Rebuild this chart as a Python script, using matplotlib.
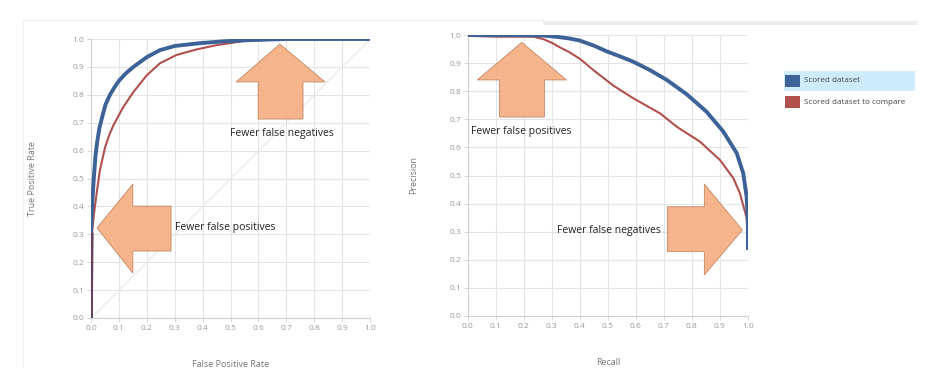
import matplotlib
matplotlib.use("Agg")
import matplotlib.pyplot as plt
from matplotlib.patches import Polygon, Rectangle
from matplotlib.lines import Line2D

plt.rcParams['font.family'] = ['Open Sans', 'DejaVu Sans']

# ---- data ----
ticks = [0.0, 0.1, 0.2, 0.3, 0.4, 0.5, 0.6, 0.7, 0.8, 0.9, 1.0]
tick_labels = ["0.0", "0.1", "0.2", "0.3", "0.4", "0.5", "0.6", "0.7", "0.8", "0.9", "1.0"]

roc_scored_fpr = [0.0, 0.0, 0.002, 0.005, 0.01, 0.016, 0.022, 0.03, 0.04, 0.052, 0.068, 0.085, 0.1, 0.125, 0.152, 0.2, 0.247, 0.3, 0.39, 0.48, 0.57, 0.7, 1.0]
roc_scored_tpr = [0.0, 0.3, 0.36, 0.42, 0.5, 0.58, 0.63, 0.68, 0.72, 0.765, 0.8, 0.828, 0.85, 0.877, 0.9, 0.935, 0.96, 0.975, 0.985, 0.992, 0.996, 1.0, 1.0]

roc_compare_fpr = [0.0, 0.003, 0.008, 0.014, 0.022, 0.032, 0.05, 0.065, 0.08, 0.115, 0.152, 0.2, 0.247, 0.307, 0.38, 0.45, 0.57, 0.65, 1.0]
roc_compare_tpr = [0.0, 0.3, 0.35, 0.4, 0.46, 0.53, 0.61, 0.655, 0.69, 0.755, 0.81, 0.87, 0.913, 0.943, 0.963, 0.978, 0.996, 1.0, 1.0]

pr_scored_recall = [0.0, 0.15, 0.27, 0.32, 0.36, 0.4, 0.45, 0.495, 0.54, 0.59, 0.65, 0.71, 0.78, 0.852, 0.912, 0.96, 0.983, 0.995, 1.0, 1.0]
pr_scored_prec = [1.0, 1.0, 0.998, 0.993, 0.988, 0.98, 0.962, 0.942, 0.925, 0.905, 0.875, 0.84, 0.79, 0.727, 0.656, 0.579, 0.508, 0.425, 0.33, 0.242]

pr_compare_recall = [0.0, 0.1, 0.233, 0.27, 0.3, 0.33, 0.36, 0.4, 0.448, 0.519, 0.59, 0.686, 0.745, 0.829, 0.9, 0.948, 0.971, 0.995, 1.0]
pr_compare_prec = [0.997, 0.994, 0.994, 0.985, 0.972, 0.955, 0.94, 0.915, 0.875, 0.82, 0.775, 0.721, 0.674, 0.62, 0.555, 0.49, 0.437, 0.35, 0.242]

series_names = ["Scored dataset", "Scored dataset to compare"]
blue = "#3D6298"
red = "#B0514E"
arrow_face = "#F4AA7C"
arrow_edge = "#B9805A"
tick_color = "#9A9A9A"
grid_color = "#E4E4E4"

fig = plt.figure(figsize=(9.35, 3.91), dpi=100)

# faint screenshot frame pieces
fig.add_artist(Line2D([23/935, 543/935], [1-20/391, 1-20/391], color="#EFEFEF", lw=0.8))
fig.add_artist(Line2D([23/935, 23/935], [1-20/391, 1-367/391], color="#EFEFEF", lw=0.8))
fig.add_artist(Rectangle((543/935, 1-25/391), 375/935, 4/391, facecolor="#ECECEC", edgecolor="none"))

ax1 = fig.add_axes([91/935, 1-318/391, 279/935, 279/391])
ax2 = fig.add_axes([468/935, 1-316/391, 280/935, 281/391])


def style(ax):
    ax.set_xlim(0, 1)
    ax.set_ylim(0, 1)
    ax.set_xticks(ticks)
    ax.set_yticks(ticks)
    ax.set_xticklabels(tick_labels)
    ax.set_yticklabels(tick_labels)
    ax.grid(True, color=grid_color, lw=0.8)
    ax.set_axisbelow(True)
    for s in ["top", "right"]:
        ax.spines[s].set_visible(False)
    for s in ["left", "bottom"]:
        ax.spines[s].set_color("#CFCFCF")
        ax.spines[s].set_linewidth(0.8)
    ax.tick_params(labelsize=6, length=3, width=0.6, pad=2)
    ax.tick_params(axis='x', colors="#CFCFCF", labelcolor=tick_color)
    ax.tick_params(axis='y', colors="#CFCFCF", labelcolor=tick_color)


def arrow(ax, pts):
    ax.add_patch(Polygon(pts, closed=True, facecolor=arrow_face, edgecolor=arrow_edge,
                         lw=0.6, alpha=0.88, zorder=5))


style(ax1)
style(ax2)

# ROC
ax1.plot([0, 1], [0, 1], color="#E8E8E8", lw=0.8, zorder=2)
ax1.plot(roc_compare_fpr, roc_compare_tpr, color=red, lw=1.5, zorder=3)
ax1.plot(roc_scored_fpr, roc_scored_tpr, color=blue, lw=2.8, zorder=4)
ax1.plot(roc_compare_fpr[:2], roc_compare_tpr[:2], color="#6B3F5A", lw=2.5, zorder=4)

arrow(ax1, [(0.677, 0.982), (0.839, 0.846), (0.76, 0.846), (0.76, 0.713),
            (0.599, 0.713), (0.599, 0.846), (0.52, 0.846)])
arrow(ax1, [(0.0215, 0.323), (0.15, 0.48), (0.15, 0.401), (0.287, 0.401),
            (0.287, 0.24), (0.15, 0.24), (0.15, 0.161)])
ax1.text(0.685, 0.663, "Fewer false negatives", ha="center", va="center", fontsize=7.5, color="#222222", zorder=6)
ax1.text(0.30, 0.323, "Fewer false positives", ha="left", va="center", fontsize=7.5, color="#222222", zorder=6)

ax1.set_xlabel("False Positive Rate", fontsize=6.5, color="#777777", labelpad=20)
ax1.set_ylabel("True Positive Rate", fontsize=6.5, color="#777777", labelpad=25)

# PR
ax2.plot(pr_compare_recall, pr_compare_prec, color=red, lw=1.5, zorder=3)
ax2.plot(pr_scored_recall, pr_scored_prec, color=blue, lw=2.8, zorder=4)

arrow(ax2, [(0.192, 0.974), (0.352, 0.84), (0.273, 0.84), (0.273, 0.708),
            (0.112, 0.708), (0.112, 0.84), (0.033, 0.84)])
arrow(ax2, [(0.98, 0.306), (0.844, 0.47), (0.844, 0.389), (0.712, 0.389),
            (0.712, 0.229), (0.844, 0.229), (0.844, 0.146)])
ax2.text(0.011, 0.655, "Fewer false positives", ha="left", va="center", fontsize=7.5, color="#222222", zorder=6)
ax2.text(0.502, 0.306, "Fewer false negatives", ha="center", va="center", fontsize=7.5, color="#222222", zorder=6)

ax2.set_xlabel("Recall", fontsize=6.5, color="#777777", labelpad=20)
ax2.set_ylabel("Precision", fontsize=6.5, color="#777777", labelpad=22)

# Legend (custom)
fig.add_artist(Rectangle((784/935, 1-91/391), 131/935, 20/391, facecolor="#CDEBFA", edgecolor="none"))
fig.add_artist(Rectangle((785/935, 1-87/391), 15/935, 12/391, facecolor=blue, edgecolor="none"))
fig.add_artist(Rectangle((785/935, 1-108/391), 15/935, 12/391, facecolor=red, edgecolor="none"))
fig.text(804/935, 1-81/391, series_names[0], fontsize=5.8, color="#444444", va="center", ha="left")
fig.text(804/935, 1-102/391, series_names[1], fontsize=5.8, color="#444444", va="center", ha="left")

fig.savefig("out.png", dpi=100, facecolor="white")
